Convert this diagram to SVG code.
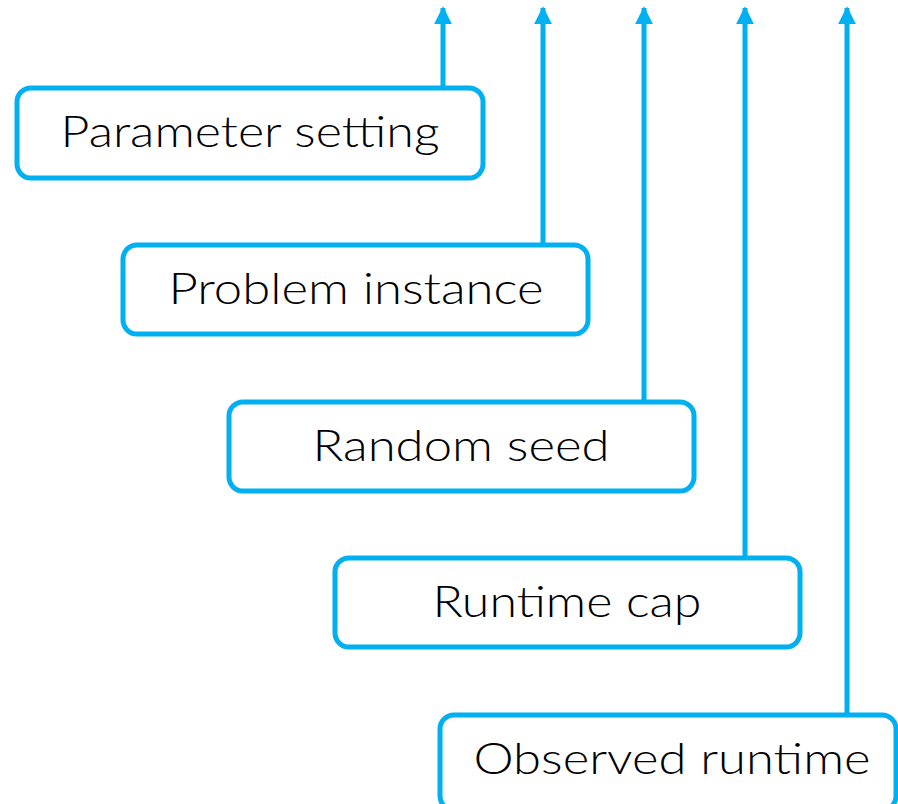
<svg xmlns="http://www.w3.org/2000/svg" width="898" height="804" viewBox="0 0 898 804">
<style>
.box{fill:#fff;stroke:#00B0F0;stroke-width:5}
.lbl{font-family:Lato,"Open Sans","Liberation Sans",sans-serif;font-size:44px;font-weight:300;fill:#000;text-anchor:middle}
.conn{stroke:#00B0F0;stroke-width:5;fill:none}
</style>
<defs>
<marker id="ah" viewBox="0 0 10 10" refX="9" refY="5" markerWidth="3.6" markerHeight="3.6" orient="auto" markerUnits="strokeWidth">
<path d="M0,0 L10,5 L0,10 z" fill="#00B0F0"/>
</marker>
</defs>
<rect width="898" height="804" fill="#fff"/>
<g id="connectors">
<line class="conn" x1="443" y1="88" x2="443" y2="8" marker-end="url(#ah)"/>
<line class="conn" x1="543" y1="245" x2="543" y2="8" marker-end="url(#ah)"/>
<line class="conn" x1="644" y1="402" x2="644" y2="8" marker-end="url(#ah)"/>
<line class="conn" x1="745" y1="558" x2="745" y2="8" marker-end="url(#ah)"/>
<line class="conn" x1="847" y1="715" x2="847" y2="8" marker-end="url(#ah)"/>
</g>
<g id="n1"><rect class="box" x="17" y="88" width="466" height="90" rx="14"/><text class="lbl" x="250" y="147" textLength="379" lengthAdjust="spacingAndGlyphs">Parameter setting</text></g>
<g id="n2"><rect class="box" x="123" y="245" width="465" height="89" rx="14"/><text class="lbl" x="356" y="304" textLength="375" lengthAdjust="spacingAndGlyphs">Problem instance</text></g>
<g id="n3"><rect class="box" x="229" y="402" width="465" height="89" rx="14"/><text class="lbl" x="461" y="461" textLength="297" lengthAdjust="spacingAndGlyphs">Random seed</text></g>
<g id="n4"><rect class="box" x="335" y="558" width="465" height="89" rx="14"/><text class="lbl" x="567" y="617" textLength="269" lengthAdjust="spacingAndGlyphs">Runtime cap</text></g>
<g id="n5"><rect class="box" x="440" y="715" width="456" height="95" rx="14"/><text class="lbl" x="672" y="774" textLength="397" lengthAdjust="spacingAndGlyphs">Observed runtime</text></g>
</svg>
